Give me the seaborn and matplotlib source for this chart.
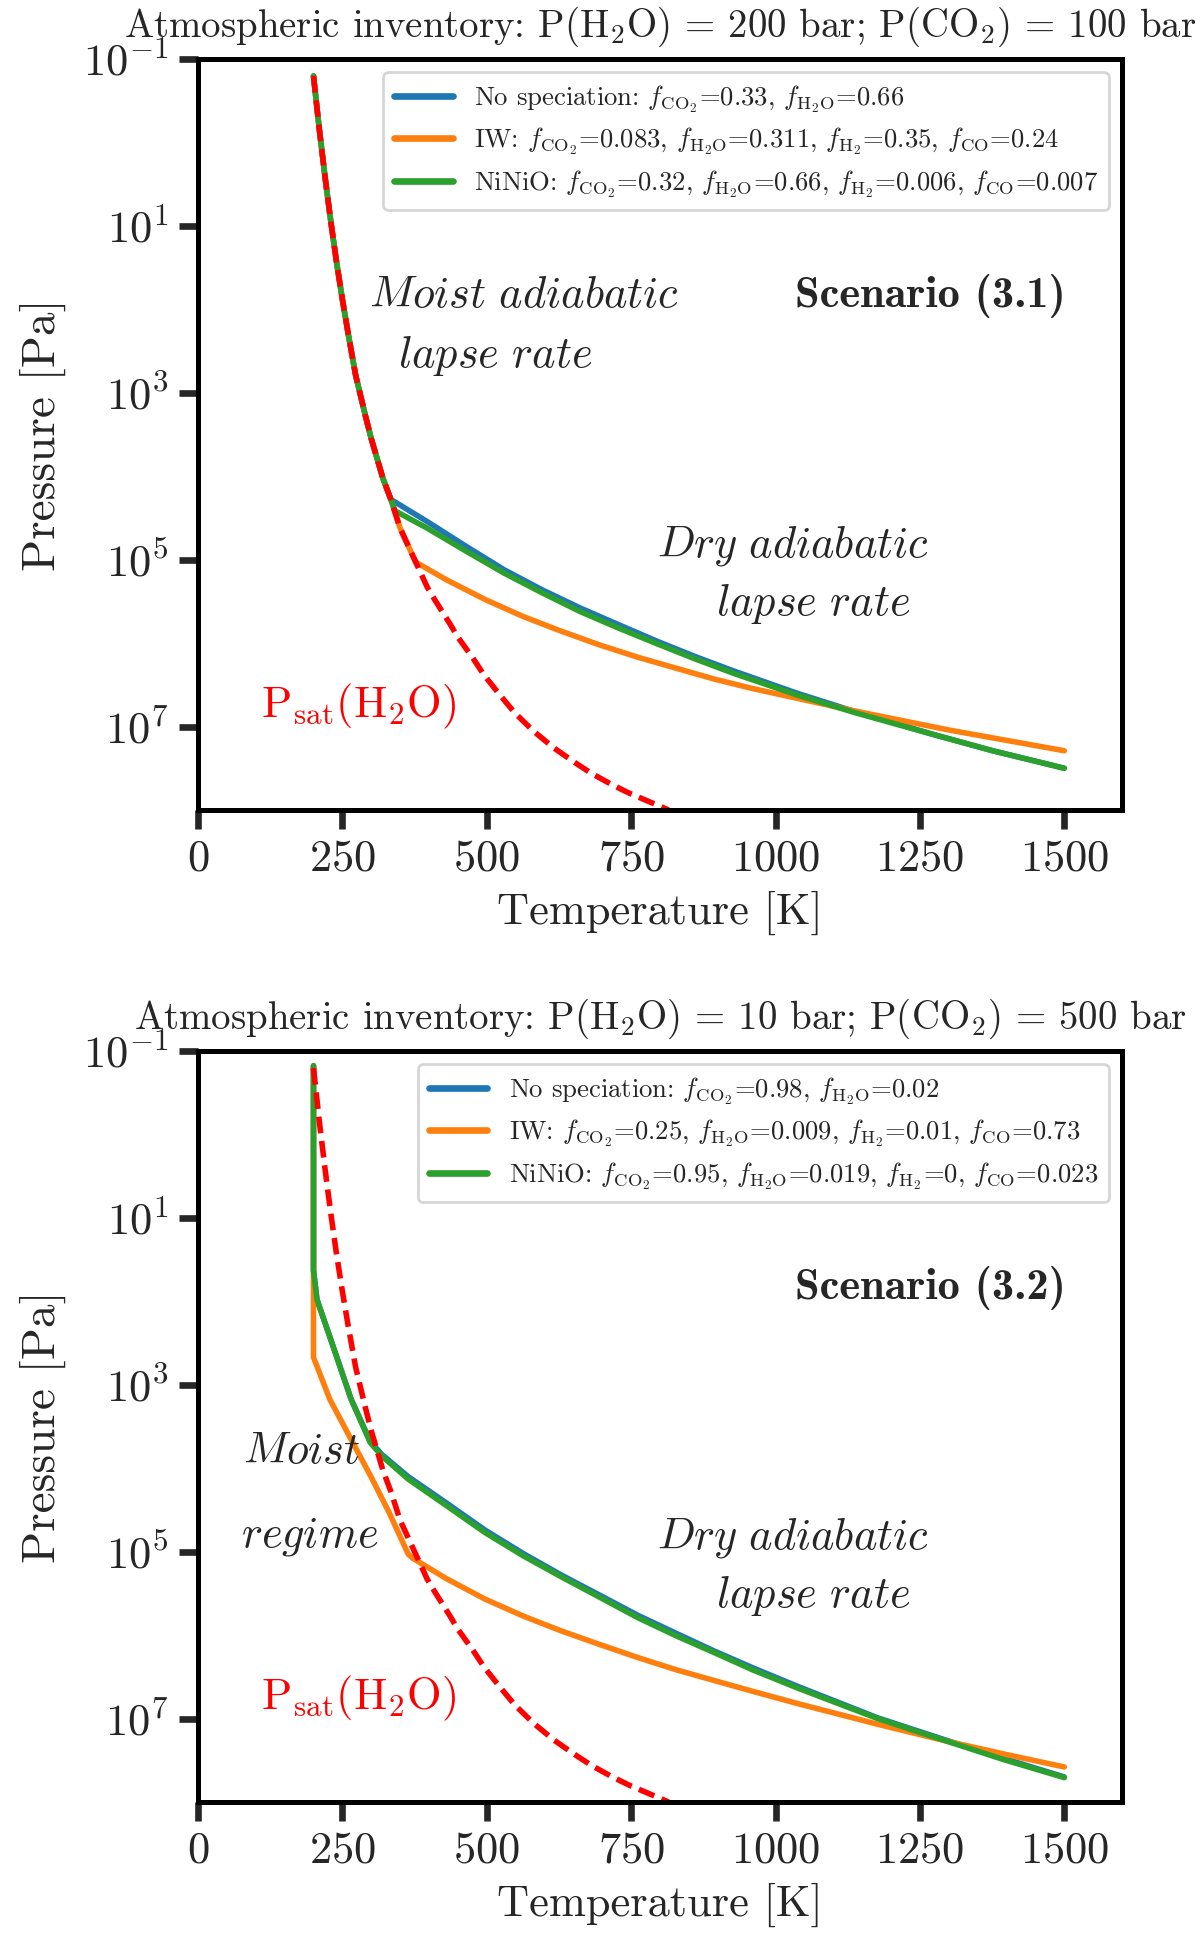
import numpy as np
import pandas as pd
import matplotlib
matplotlib.use('Agg')
import matplotlib.pyplot as plt
import seaborn as sns

# Saturation vapour pressure of water (red dashed curve), same in both panels
T_sat = [200, 210, 220, 230, 240, 250, 260, 273, 290, 300, 320, 334, 350,
         377, 397, 409, 437, 449, 477, 495, 523, 548, 580, 615, 650, 681, 715, 747, 815]
P_sat = [0.16, 0.69, 2.6, 8.9, 27.5, 76, 195, 617, 1.9e3, 3.55e3, 1.05e4, 1.9e4, 4.2e4,
         1.07e5, 2.14e5, 2.95e5, 6.0e5, 8.3e5, 1.55e6, 2.4e6, 4.2e6, 6.8e6, 1.12e7, 1.78e7,
         2.63e7, 3.63e7, 4.9e7, 6.3e7, 1.0e8]

# Scenario 3.1 : P(H2O)=200 bar, P(CO2)=100 bar
T_moist_31 = [200, 210, 220, 230, 240, 250, 260, 273, 290, 300, 320]
P_moist_31 = [0.16, 0.69, 2.6, 8.9, 27.5, 76, 195, 617, 1.9e3, 3.55e3, 1.05e4]

T_nospec_31 = T_moist_31 + [334, 397, 464, 530, 596, 662, 728, 795, 861, 927, 1038, 1137, 1276, 1376, 1500]
P_nospec_31 = P_moist_31 + [1.9e4, 3.5e4, 6.9e4, 1.32e5, 2.3e5, 3.8e5, 6.0e5, 9.5e5, 1.45e6, 2.15e6,
                            4.0e6, 6.6e6, 1.26e7, 1.95e7, 3.16e7]

T_iw_31 = T_moist_31 + [334, 350, 377, 430, 497, 563, 629, 695, 762, 828, 894, 960, 1038, 1137, 1300, 1500]
P_iw_31 = P_moist_31 + [1.9e4, 4.2e4, 1.07e5, 1.74e5, 3.0e5, 4.8e5, 7.2e5, 1.05e6, 1.48e6, 2.0e6,
                        2.7e6, 3.5e6, 4.6e6, 6.5e6, 1.1e7, 1.95e7]

T_ninio_31 = T_moist_31 + [334, 341, 397, 464, 530, 596, 662, 728, 795, 861, 927, 1038, 1137, 1276, 1376, 1500]
P_ninio_31 = P_moist_31 + [1.9e4, 2.6e4, 4.2e4, 7.9e4, 1.45e5, 2.5e5, 4.2e5, 6.6e5, 1.02e6, 1.55e6,
                           2.3e6, 4.2e6, 6.8e6, 1.26e7, 1.95e7, 3.16e7]

# Scenario 3.2 : P(H2O)=10 bar, P(CO2)=500 bar
T_nospec_32 = [200, 200, 206, 232, 265, 298, 318, 364, 430, 497, 563, 629, 695, 762, 828, 894,
               960, 1038, 1177, 1296, 1395, 1500]
P_nospec_32 = [0.15, 42, 95, 316, 1.48e3, 4.7e3, 6.8e3, 1.26e4, 2.6e4, 5.5e4, 1.05e5, 1.9e5,
               3.3e5, 5.8e5, 9.5e5, 1.55e6, 2.45e6, 4.1e6, 9.8e6, 1.82e7, 3.0e7, 5.0e7]

T_iw_32 = [200, 200, 228, 265, 301, 331, 364, 372, 430, 497, 563, 629, 695, 762, 828, 894,
           960, 1038, 1177, 1296, 1400, 1500]
P_iw_32 = [0.15, 468, 1.48e3, 4.5e3, 1.32e4, 3.4e4, 1.07e5, 1.2e5, 2.1e5, 3.7e5, 5.9e5, 8.9e5,
           1.29e6, 1.86e6, 2.6e6, 3.5e6, 4.7e6, 6.6e6, 1.17e7, 1.86e7, 2.7e7, 3.8e7]

T_ninio_32 = [200, 200, 206, 232, 265, 298, 318, 364, 430, 497, 563, 629, 695, 762, 828, 894,
              960, 1038, 1177, 1296, 1395, 1500]
P_ninio_32 = [0.15, 42.7, 95, 316, 1.48e3, 4.9e3, 7.1e3, 1.35e4, 2.8e4, 5.9e4, 1.12e5, 2.0e5,
              3.5e5, 6.2e5, 1.02e6, 1.62e6, 2.6e6, 4.3e6, 1.0e7, 1.86e7, 3.1e7, 5.1e7]

titles = [r'Atmospheric inventory: P(H$_2$O) = 200 bar; P(CO$_2$) = 100 bar',
          r'Atmospheric inventory: P(H$_2$O) = 10 bar; P(CO$_2$) = 500 bar']

labels_31 = [r'No speciation: $f_{\rm CO_2}$=0.33, $f_{\rm H_2O}$=0.66',
             r'IW: $f_{\rm CO_2}$=0.083, $f_{\rm H_2O}$=0.311, $f_{\rm H_2}$=0.35, $f_{\rm CO}$=0.24',
             r'NiNiO: $f_{\rm CO_2}$=0.32, $f_{\rm H_2O}$=0.66, $f_{\rm H_2}$=0.006, $f_{\rm CO}$=0.007']
labels_32 = [r'No speciation: $f_{\rm CO_2}$=0.98, $f_{\rm H_2O}$=0.02',
             r'IW: $f_{\rm CO_2}$=0.25, $f_{\rm H_2O}$=0.009, $f_{\rm H_2}$=0.01, $f_{\rm CO}$=0.73',
             r'NiNiO: $f_{\rm CO_2}$=0.95, $f_{\rm H_2O}$=0.019, $f_{\rm H_2}$=0, $f_{\rm CO}$=0.023']

colors = ['#1f77b4', '#ff7f0e', '#2ca02c']

sns.set_style('ticks')
plt.rcParams['font.family'] = 'serif'
plt.rcParams['font.serif'] = ['cmr10']
plt.rcParams['mathtext.fontset'] = 'cm'
plt.rcParams['axes.formatter.use_mathtext'] = True
plt.rcParams['axes.unicode_minus'] = False

fig = plt.figure(figsize=(6, 9.705), dpi=200)
ax1 = fig.add_axes([0.165, 0.5827, 0.77, 0.3869])
ax2 = fig.add_axes([0.165, 0.0716, 0.77, 0.3869])


def draw_panel(ax, series, labels, title, scenario, moist_texts):
    for (T, P), lab, c in zip(series, labels, colors):
        df = pd.DataFrame({'T': T, 'P': P})
        sns.lineplot(data=df, x='T', y='P', ax=ax, color=c, lw=2.0, sort=False,
                     estimator=None, label=lab)
    sat = pd.DataFrame({'T': T_sat, 'P': P_sat})
    sns.lineplot(data=sat, x='T', y='P', ax=ax, color='red', lw=2.0, sort=False,
                 estimator=None)
    ax.lines[-1].set_linestyle((0, (3.0, 1.4)))

    ax.set_yscale('log')
    ax.set_ylim(1e8, 1e-1)
    ax.set_xlim(0, 1600)
    ax.set_yticks([1e-1, 1e1, 1e3, 1e5, 1e7])
    ax.yaxis.set_minor_locator(matplotlib.ticker.NullLocator())
    ax.set_xticks([0, 250, 500, 750, 1000, 1250, 1500])
    ax.tick_params(axis='both', direction='out', length=7, width=2.4, labelsize=16)
    for s in ax.spines.values():
        s.set_linewidth(1.8)
        s.set_color('black')
    ax.set_xlabel('Temperature [K]', fontsize=16)
    ax.set_ylabel('Pressure [Pa]', fontsize=17, labelpad=6)
    ax.set_title(title, fontsize=14, pad=8)

    leg = ax.legend(loc='upper right', fontsize=9.6, handlelength=2.2, framealpha=0.8,
                    labelspacing=0.4)
    for ln in leg.get_lines():
        ln.set_linewidth(2.4)

    ax.text(1269, 10 ** 1.84, 'Scenario (3.' + scenario + ')', family='cmb10',
            fontsize=16, ha='center', va='center')
    for txt, x, y in moist_texts:
        ax.text(x, y, txt, fontsize=16, ha='center', va='center')
    ax.text(1031, 10 ** 4.84, r'$\mathit{Dry\ adiabatic}$', fontsize=16, ha='center', va='center')
    ax.text(1066, 10 ** 5.53, r'$\mathit{lapse\ rate}$', fontsize=16, ha='center', va='center')
    ax.text(278, 10 ** 6.76, r'P$_{\rm sat}$(H$_2$O)', color='red', fontsize=16,
            ha='center', va='center')


draw_panel(ax1,
           [(T_nospec_31, P_nospec_31), (T_iw_31, P_iw_31), (T_ninio_31, P_ninio_31)],
           labels_31, titles[0], '1',
           [(r'$\mathit{Moist\ adiabatic}$', 565, 10 ** 1.84),
            (r'$\mathit{lapse\ rate}$', 514, 10 ** 2.56)])
draw_panel(ax2,
           [(T_nospec_32, P_nospec_32), (T_iw_32, P_iw_32), (T_ninio_32, P_ninio_32)],
           labels_32, titles[1], '2',
           [(r'$\mathit{Moist}$', 180, 10 ** 3.81),
            (r'$\mathit{regime}$', 193, 10 ** 4.82)])

fig.savefig('out.png', dpi=200)
